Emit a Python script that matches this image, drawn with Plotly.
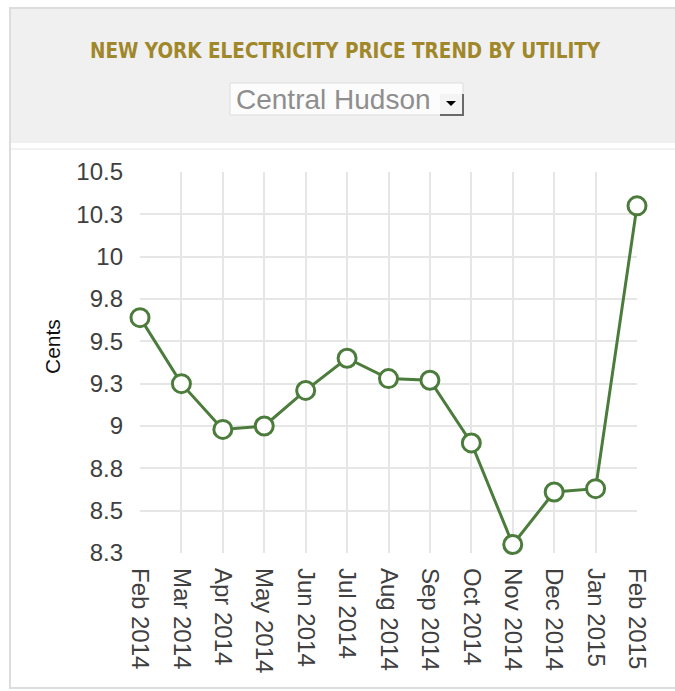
import plotly.graph_objects as go

# Monthly average residential electricity price, Central Hudson (cents/kWh)
months = ["Feb 2014", "Mar 2014", "Apr 2014", "May 2014", "Jun 2014", "Jul 2014",
          "Aug 2014", "Sep 2014", "Oct 2014", "Nov 2014", "Dec 2014", "Jan 2015",
          "Feb 2015"]
price_cents = [9.64, 9.25, 8.98, 9.00, 9.21, 9.40, 9.28, 9.27, 8.90, 8.30, 8.61, 8.63, 10.30]

y_tickvals = [8.25, 8.5, 8.75, 9.0, 9.25, 9.5, 9.75, 10.0, 10.25, 10.5]
y_ticktext = ["8.3", "8.5", "8.8", "9", "9.3", "9.5", "9.8", "10", "10.3", "10.5"]

title_text = "NEW YORK ELECTRICITY PRICE TREND BY UTILITY"
utility_name = "Central Hudson"

W, H = 675, 691
L, R, T, B = 140, 38, 172, 138
PW, PH = W - L - R, H - T - B


def px(x):
    return (x - L) / PW


def py(y):
    return (H - B - y) / PH


GREEN = "#4c7c3c"
GRID = "#e6e6e6"

fig = go.Figure()
fig.add_trace(go.Scatter(
    x=months, y=price_cents, mode="lines+markers",
    line=dict(color=GREEN, width=3),
    marker=dict(size=18, color="white", line=dict(color=GREEN, width=3)),
    cliponaxis=False, showlegend=False,
))

shapes = [
    # card outline
    dict(type="rect", xref="paper", yref="paper", x0=px(10), x1=px(700), y0=py(688), y1=py(8),
         line=dict(color="#dddddd", width=2), fillcolor="white", layer="below"),
    # header band
    dict(type="rect", xref="paper", yref="paper", x0=px(11), x1=px(700), y0=py(143), y1=py(9),
         line=dict(width=0), fillcolor="#f0f0f0", layer="below"),
    dict(type="line", xref="paper", yref="paper", x0=px(11), x1=px(700), y0=py(149), y1=py(149),
         line=dict(color="#f2f2f2", width=2), layer="below"),
    # selector box
    dict(type="rect", xref="paper", yref="paper", x0=px(230), x1=px(463), y0=py(115), y1=py(83),
         line=dict(color="#dcdcdc", width=1), fillcolor="#fcfcfc", layer="below"),
    # selector arrow button with shadowed right/bottom edges
    dict(type="rect", xref="paper", yref="paper", x0=px(440), x1=px(463), y0=py(115), y1=py(94),
         line=dict(width=0), fillcolor="#f4f4f4", layer="below"),
    dict(type="path", xref="paper", yref="paper",
         path=f"M {px(440)} {py(115)} L {px(463)} {py(115)} L {px(463)} {py(94)}",
         line=dict(color="#6a6a6a", width=2), layer="below"),
    dict(type="path", xref="paper", yref="paper",
         path=f"M {px(446)} {py(101)} L {px(456)} {py(101)} L {px(451)} {py(106)} Z",
         line=dict(width=0), fillcolor="black", layer="above"),
]

annotations = [
    dict(text=f"<b>{title_text}</b>", xref="paper", yref="paper", x=px(345), y=py(51),
         xanchor="center", yanchor="middle", showarrow=False,
         font=dict(family="Liberation Sans Narrow, DejaVu Sans Condensed, Liberation Sans",
                   size=20.5, color="#a0882a")),
    dict(text=utility_name, xref="paper", yref="paper", x=px(234), y=py(99),
         xanchor="left", yanchor="middle", showarrow=False,
         font=dict(family="Liberation Sans, Arial", size=28, color="#8e8e8e")),
    dict(text="Cents", xref="paper", yref="paper", x=px(52), y=py(347),
         xanchor="center", yanchor="middle", textangle=-90, showarrow=False,
         font=dict(family="Liberation Sans, Arial", size=21, color="#111111")),
]

fig.update_layout(
    width=W, height=H,
    margin=dict(l=L, r=R, t=T, b=B),
    paper_bgcolor="white", plot_bgcolor="white",
    shapes=shapes, annotations=annotations,
    font=dict(family="Liberation Sans, Arial", size=24, color="#444444"),
    xaxis=dict(type="category", range=[0, len(months) - 1], tickangle=90,
               showgrid=True, gridcolor=GRID, gridwidth=2, zeroline=False,
               showline=False, ticks="", ticklabelstandoff=14,
               tickfont=dict(size=24, color="#404040")),
    yaxis=dict(range=[8.25, 10.5], tickvals=y_tickvals, ticktext=y_ticktext,
               showgrid=True, gridcolor=GRID, gridwidth=2, zeroline=False,
               showline=False, ticks="", ticklabelstandoff=16,
               tickfont=dict(size=24, color="#404040")),
)

fig.write_html("out.html")
